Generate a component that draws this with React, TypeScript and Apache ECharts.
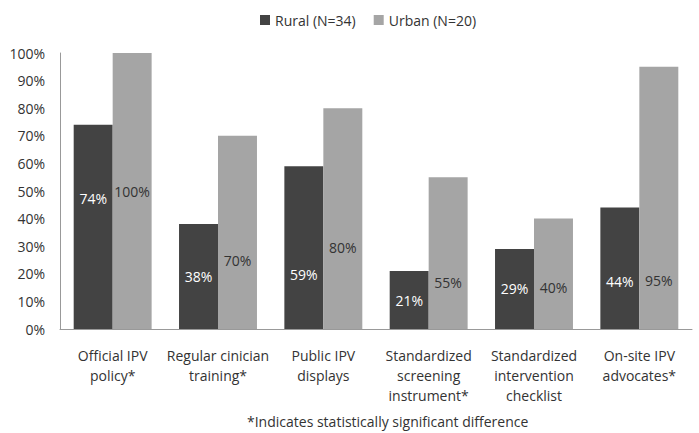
import React, { useEffect, useRef } from "react";
import * as echarts from "echarts";

const categories = [
  "Official IPV\npolicy*",
  "Regular cinician\ntraining*",
  "Public IPV\ndisplays",
  "Standardized\nscreening\ninstrument*",
  "Standardized\nintervention\nchecklist",
  "On-site IPV\nadvocates*",
];
const rural = [74, 38, 59, 21, 29, 44];
const urban = [100, 70, 80, 55, 40, 95];
const yTicks = [0, 10, 20, 30, 40, 50, 60, 70, 80, 90, 100];
const footnote = "*Indicates statistically significant difference";

// label vertical offsets (layout only)
const ruralLabelDy = [-28, 0, 27, 0, 0, 13];
const urbanLabelDy = [0, 28, 29, 29, 14, 83];

const FONT = "Open Sans";

export default function App() {
  const ref = useRef<HTMLDivElement>(null);
  useEffect(() => {
    if (!ref.current) return;
    document.body.style.margin = "0";
    const chart = echarts.init(ref.current, undefined, { renderer: "svg" });
    chart.setOption({
      animation: false,
      backgroundColor: "#ffffff",
      textStyle: { fontFamily: FONT },
      legend: {
        top: 8,
        left: 255,
        itemWidth: 10,
        itemHeight: 10,
        itemGap: 18,
        icon: "rect",
        textStyle: { fontSize: 14, color: "#333", fontFamily: FONT },
        data: ["Rural (N=34)", "Urban (N=20)"],
      },
      grid: { left: 60, right: 7, top: 53, bottom: 104 },
      xAxis: {
        type: "category",
        data: categories,
        axisLine: { lineStyle: { color: "#999", width: 1 } },
        axisTick: { show: false },
        axisLabel: {
          interval: 0,
          fontSize: 14,
          color: "#333",
          lineHeight: 20,
          margin: 16,
          fontFamily: FONT,
        },
      },
      yAxis: {
        type: "value",
        min: 0,
        max: 100,
        interval: 10,
        splitLine: { show: false },
        axisLine: { show: true, lineStyle: { color: "#999", width: 1 } },
        axisTick: { show: false },
        axisLabel: {
          fontSize: 14,
          color: "#333",
          margin: 15,
          fontFamily: FONT,
          formatter: (v: number) => (yTicks.includes(v) ? v + "%" : ""),
        },
      },
      series: [
        {
          name: "Rural (N=34)",
          type: "bar",
          barGap: "0%",
          barCategoryGap: "26%",
          itemStyle: { color: "#434343" },
          data: rural.map((v, i) => ({
            value: v,
            label: { offset: [0, ruralLabelDy[i]] },
          })),
          label: {
            show: true,
            position: "inside",
            color: "#ffffff",
            fontSize: 14,
            fontFamily: FONT,
            formatter: (p: any) => p.value + "%",
          },
        },
        {
          name: "Urban (N=20)",
          type: "bar",
          barGap: "0%",
          barCategoryGap: "26%",
          itemStyle: { color: "#a5a5a5" },
          data: urban.map((v, i) => ({
            value: v,
            label: { offset: [0, urbanLabelDy[i]] },
          })),
          label: {
            show: true,
            position: "inside",
            color: "#333333",
            fontSize: 14,
            fontFamily: FONT,
            formatter: (p: any) => p.value + "%",
          },
        },
      ],
      graphic: [
        {
          type: "text",
          left: 247,
          top: 414,
          style: {
            text: footnote,
            fontSize: 14,
            fill: "#333",
            fontFamily: FONT,
          },
        },
      ],
    });
    return () => chart.dispose();
  }, []);
  return <div ref={ref} style={{ width: 699, height: 433 }} />;
}
